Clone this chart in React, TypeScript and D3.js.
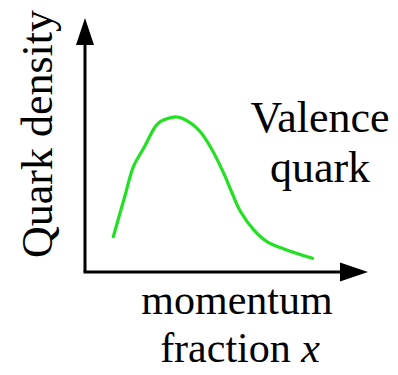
import React from "react";
import * as d3 from "d3";

// Sketch of the valence-quark momentum distribution
const momentumFraction = [0.1, 0.142, 0.171, 0.207, 0.248, 0.266, 0.319, 0.343, 0.402, 0.443, 0.49, 0.52, 0.55, 0.597, 0.644, 0.703, 0.804];
const quarkDensity = [0.139, 0.303, 0.415, 0.487, 0.572, 0.592, 0.611, 0.605, 0.559, 0.493, 0.389, 0.31, 0.237, 0.165, 0.119, 0.091, 0.054];

const yAxisLabel = "Quark density";
const curveLabel = ["Valence", "quark"];
const xAxisLabel = ["momentum", "fraction "];
const xAxisVar = "x";

const W = 398;
const H = 375;
const originX = 85;
const originY = 272;
const xEnd = 368;
const yEnd = 18;

const fontFamily = "Liberation Serif, DejaVu Serif, Times New Roman, serif";
const textStyle: React.CSSProperties = { fontFamily, fontSize: 44 };
const xLabelStyle: React.CSSProperties = { fontFamily, fontSize: 42 };

export default function App() {
  const x = d3.scaleLinear().domain([0, 1]).range([originX, xEnd]);
  const y = d3.scaleLinear().domain([0, 1]).range([originY, yEnd]);
  const pts = momentumFraction.map((v, i) => [v, quarkDensity[i]] as [number, number]);
  const line = d3
    .line<[number, number]>()
    .x((d) => x(d[0]))
    .y((d) => y(d[1]))
    .curve(d3.curveCatmullRom.alpha(0.5));

  return (
    <svg
      width={W}
      height={H}
      style={{ position: "absolute", left: 0, top: 0, background: "#fff" }}
    >
      {/* axes */}
      <line x1={originX} y1={originY} x2={originX} y2={yEnd + 20} stroke="#000" strokeWidth={3} />
      <line x1={originX - 1.5} y1={originY} x2={xEnd - 20} y2={originY} stroke="#000" strokeWidth={3} />
      <polygon
        points={`${originX},${yEnd} ${originX - 9},${yEnd + 27} ${originX + 9},${yEnd + 27}`}
        fill="#000"
      />
      <polygon
        points={`${xEnd},${originY} ${xEnd - 28},${originY - 9.5} ${xEnd - 28},${originY + 9.5}`}
        fill="#000"
      />

      {/* distribution curve */}
      <path d={line(pts) || ""} fill="none" stroke="#22e022" strokeWidth={3.2} strokeLinecap="round" strokeLinejoin="round" />

      {/* labels */}
      <text transform={`translate(52,134) rotate(-90)`} textAnchor="middle" style={textStyle} fill="#000">
        {yAxisLabel}
      </text>
      <text textAnchor="middle" style={textStyle} fill="#000">
        <tspan x={320} y={132}>{curveLabel[0]}</tspan>
        <tspan x={320} y={182}>{curveLabel[1]}</tspan>
      </text>
      <text textAnchor="middle" style={xLabelStyle} fill="#000">
        <tspan x={237} y={314}>{xAxisLabel[0]}</tspan>
        <tspan x={240} y={362}>
          {xAxisLabel[1]}
          <tspan fontStyle="italic">{xAxisVar}</tspan>
        </tspan>
      </text>
    </svg>
  );
}
